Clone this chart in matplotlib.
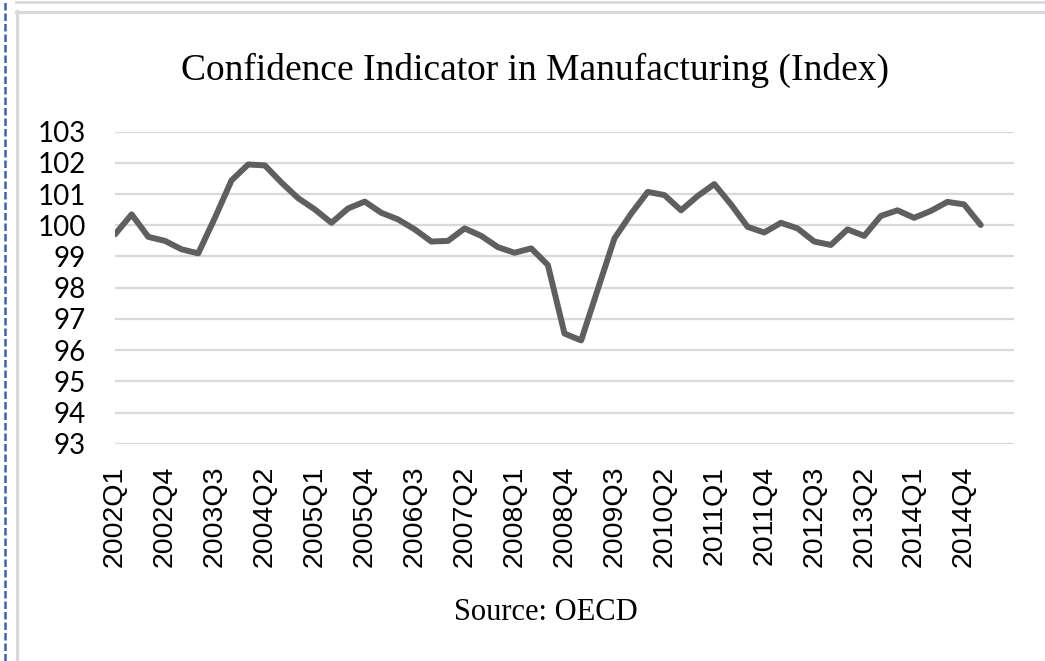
import matplotlib
matplotlib.use("Agg")
import matplotlib.pyplot as plt
from matplotlib.lines import Line2D

# quarterly index values, 2002Q1 .. 2015Q1
quarters = [f"{y}Q{q}" for y in range(2002, 2016) for q in range(1, 5)][:53]
values = [99.71, 100.35, 99.63, 99.50, 99.23, 99.10, 100.24, 101.44, 101.95, 101.92,
          101.37, 100.87, 100.51, 100.08, 100.54, 100.76, 100.40, 100.19, 99.87, 99.48,
          99.50, 99.90, 99.66, 99.30, 99.12, 99.26, 98.73, 96.53, 96.31, 97.95,
          99.58, 100.37, 101.07, 100.97, 100.48, 100.94, 101.32, 100.67, 99.95, 99.77,
          100.08, 99.90, 99.48, 99.37, 99.87, 99.66, 100.30, 100.48, 100.24, 100.46,
          100.75, 100.67, 100.01]
yticks = list(range(93, 104))

W, H = 1045, 661
fig = plt.figure(figsize=(W / 100, H / 100), dpi=100)
ax = fig.add_axes([115 / W, 1 - 443.7 / H, (1014 - 115) / W, (443.7 - 131.7) / H])

x = list(range(len(values)))
ax.plot(x, values, color="#5f5f5f", lw=4.3, solid_joinstyle="round", solid_capstyle="round", zorder=3)

ax.set_xlim(0, 54)
ax.set_ylim(93, 103)
ax.set_yticks(yticks)
ax.set_yticklabels([str(v) for v in yticks], fontfamily="Lato", fontsize=20)
ax.grid(axis="y", color="#d9d9d9", lw=1.6)
ax.set_axisbelow(True)

ax.set_xticks(x[::3])
ax.set_xticklabels(quarters[::3], rotation=90, fontfamily="Liberation Sans", fontsize=20.5)
ax.tick_params(axis="both", length=0)
ax.tick_params(axis="y", pad=21)
ax.tick_params(axis="x", pad=16)
for s in ax.spines.values():
    s.set_visible(False)

fig.text(535 / W, 1 - 70 / H, "Confidence Indicator in Manufacturing (Index)",
         fontfamily="Liberation Serif", fontsize=27, ha="center", va="center")
fig.text(546 / W, 1 - 613 / H, "Source: OECD",
         fontfamily="Liberation Serif", fontsize=22, ha="center", va="center")

# surrounding frame bits
fig.add_artist(Line2D([5 / W, 5 / W], [0, 1], color="#3f62a8", lw=1.8, ls=(0, (3, 1.2))))
fig.add_artist(Line2D([16 / W, 1], [1 - 1.5 / H] * 2, color="#d9d9d9", lw=2))
fig.add_artist(Line2D([16 / W, 1], [1 - 11.5 / H] * 2, color="#d9d9d9", lw=2.2))
fig.add_artist(Line2D([17 / W] * 2, [0, 1 - 11 / H], color="#d9d9d9", lw=2.2))

fig.savefig("out.png", dpi=100)
